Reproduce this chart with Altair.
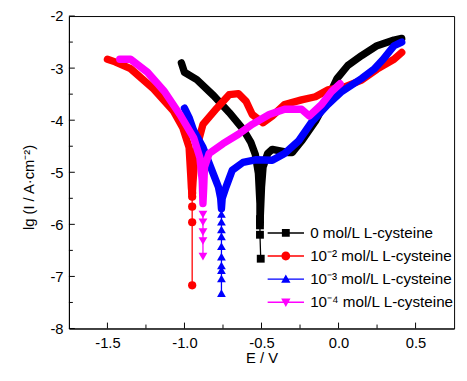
import altair as alt
import pandas as pd

# ---------------- data ----------------
series = ["0 mol/L L-cysteine", "10⁻² mol/L L-cysteine",
          "10⁻³ mol/L L-cysteine", "10⁻⁴ mol/L L-cysteine"]
colors = ["#000000", "#ff0000", "#0000ff", "#ff00ff"]
marker_shapes = ["square", "circle", "triangle-up", "triangle-down"]

# 0 mol/L
black_E = [-1.02, -1.00, -0.92, -0.81, -0.71, -0.62, -0.57, -0.54, -0.52, -0.51, -0.51,
           -0.50, -0.49, -0.46, -0.43, -0.33, -0.30, -0.24, -0.15, -0.07, -0.01, 0.06,
           0.15, 0.25, 0.36, 0.41]
black_lg = [-2.90, -3.08, -3.22, -3.53, -3.85, -4.17, -4.42, -4.66, -5.02, -5.60, -6.00,
            -5.28, -4.90, -4.64, -4.56, -4.62, -4.62, -4.40, -4.02, -3.58, -3.20, -2.95,
            -2.76, -2.57, -2.46, -2.43]
black_tip_E = [-0.51, -0.51, -0.51, -0.505]
black_tip_lg = [-5.90, -6.02, -6.20, -6.66]

# 10^-2 mol/L
red_E = [-1.50, -1.45, -1.35, -1.20, -1.07, -1.01, -0.97, -0.96, -0.955, -0.95,
         -0.945, -0.935, -0.92, -0.88, -0.79, -0.71, -0.65, -0.60, -0.56, -0.49,
         -0.43, -0.35, -0.24, -0.15, -0.07, 0.04, 0.15, 0.25, 0.36, 0.41]
red_lg = [-2.83, -2.88, -3.01, -3.40, -3.83, -4.15, -4.52, -5.02, -5.30, -5.45,
          -5.20, -4.80, -4.52, -4.08, -3.77, -3.51, -3.49, -3.64, -3.89, -4.05,
          -3.92, -3.70, -3.61, -3.55, -3.42, -3.36, -3.23, -3.02, -2.83, -2.70]
red_tip_E = [-0.95, -0.95, -0.95, -0.95, -0.95]
red_tip_lg = [-5.40, -5.47, -5.66, -5.96, -7.17]

# 10^-3 mol/L
blue_E = [-1.00, -0.97, -0.94, -0.88, -0.83, -0.78, -0.765, -0.76,
          -0.755, -0.73, -0.69, -0.62, -0.54, -0.43, -0.35, -0.26, -0.17, -0.07,
          0.02, 0.15, 0.23, 0.29, 0.36, 0.41]
blue_lg = [-3.77, -3.95, -4.20, -4.52, -4.90, -5.28, -5.50, -5.70,
           -5.50, -5.28, -4.96, -4.81, -4.76, -4.77, -4.64, -4.40, -4.02, -3.70,
           -3.45, -3.20, -3.02, -2.83, -2.57, -2.50]
blue_tip_E = [-0.76, -0.76, -0.76, -0.76, -0.76, -0.76, -0.76, -0.76, -0.76, -0.76]
blue_tip_lg = [-5.80, -5.95, -6.10, -6.23, -6.42, -6.62, -6.79, -6.88, -7.04, -7.32]

# 10^-4 mol/L
mag_E = [-1.42, -1.35, -1.24, -1.13, -1.03, -0.94, -0.90, -0.885, -0.88,
         -0.875, -0.87, -0.84, -0.75, -0.65, -0.56, -0.45, -0.35, -0.24, -0.19,
         -0.11, -0.045, 0.01]
mag_lg = [-2.83, -2.83, -3.08, -3.45, -3.89, -4.34, -4.72, -5.15, -5.60,
          -5.30, -4.90, -4.64, -4.45, -4.27, -4.08, -3.89, -3.79, -3.79, -3.92,
          -3.70, -3.45, -3.30]
mag_tip_E = [-0.88, -0.88, -0.88, -0.88, -0.88]
mag_tip_lg = [-5.81, -5.96, -6.15, -6.32, -6.62]

x_major = [-1.5, -1.0, -0.5, 0.0, 0.5]
x_minor = [-1.25, -0.75, -0.25, 0.25]
y_major = [-8, -7, -6, -5, -4, -3, -2]
y_minor = [-7.5, -6.5, -5.5, -4.5, -3.5, -2.5]

# legend symbol paths (line + marker), unit = 5 px (symbolSize 100), all clockwise
legend_paths = [
    "M-3.7,-0.14H3.7V0.14H-3.7Z M-0.8,-0.8H0.8V0.8H-0.8Z",
    "M-3.7,-0.14H3.7V0.14H-3.7Z M-0.9,0A0.9,0.9,0,1,1,0.9,0A0.9,0.9,0,1,1,-0.9,0Z",
    "M-3.7,-0.14H3.7V0.14H-3.7Z M0,-0.95L0.95,0.75L-0.95,0.75Z",
    "M-3.7,-0.14H3.7V0.14H-3.7Z M0,0.95L-0.95,-0.75L0.95,-0.75Z",
]

FONT = "Liberation Sans"
W, H = 392, 318

xscale = alt.Scale(domain=[-1.75, 0.75], nice=False, zero=False)
yscale = alt.Scale(domain=[-8, -2], nice=False, zero=False)
xaxis = alt.Axis(values=x_major, title="E / V",
                 labelExpr="replace(format(datum.value, '.1f'), '−', '-')",
                 labelPadding=7, titleY=30, titleBaseline="middle")
yaxis = alt.Axis(values=y_major, title="lg (I / A·cm⁻²)",
                 labelExpr="replace(format(datum.value, 'd'), '−', '-')",
                 labelPadding=6, titleX=-41, titleY=174, titleAngle=-90,
                 titleBaseline="middle", titleAlign="center")


def X():
    return alt.X("E:Q", scale=xscale, axis=xaxis)


def Y():
    return alt.Y("lg:Q", scale=yscale, axis=yaxis)


def frame(E, lg, name):
    return pd.DataFrame({"E": E, "lg": lg, "series": name, "i": list(range(len(E)))})


curves = [(black_E, black_lg), (red_E, red_lg), (blue_E, blue_lg), (mag_E, mag_lg)]
tips = [(black_tip_E, black_tip_lg), (red_tip_E, red_tip_lg),
        (blue_tip_E, blue_tip_lg), (mag_tip_E, mag_tip_lg)]
tip_sizes = [64, 70, 80, 80]

layers = []
for k in range(4):
    cdf = frame(curves[k][0], curves[k][1], series[k])
    tdf = frame(tips[k][0], tips[k][1], series[k])
    c = colors[k]
    layers.append(alt.Chart(tdf).mark_line(color=c, strokeWidth=1.3).encode(
        x=X(), y=Y(), order="i:Q"))
    layers.append(alt.Chart(cdf).mark_line(color=c, strokeWidth=7.5, strokeCap="round",
                                           strokeJoin="round").encode(
        x=X(), y=Y(), order="i:Q"))
    layers.append(alt.Chart(tdf).mark_point(shape=marker_shapes[k], filled=True,
                                            size=tip_sizes[k], color=c,
                                            opacity=1).encode(x=X(), y=Y()))

# inward ticks
xt_major = pd.DataFrame({"E": x_major})
xt_minor = pd.DataFrame({"E": x_minor})
yt_major = pd.DataFrame({"lg": y_major})
yt_minor = pd.DataFrame({"lg": y_minor})
layers.append(alt.Chart(xt_major).mark_rule(color="black", strokeWidth=1).encode(
    x=X(), y=alt.value(H), y2=alt.value(H - 6)))
layers.append(alt.Chart(xt_minor).mark_rule(color="black", strokeWidth=1).encode(
    x=X(), y=alt.value(H), y2=alt.value(H - 4)))
layers.append(alt.Chart(yt_major).mark_rule(color="black", strokeWidth=1).encode(
    y=Y(), x=alt.value(0), x2=alt.value(6)))
layers.append(alt.Chart(yt_minor).mark_rule(color="black", strokeWidth=1).encode(
    y=Y(), x=alt.value(0), x2=alt.value(4)))

# legend layer (invisible marks, visible legend)
leg = alt.Legend(title=None, orient="none", legendX=213, legendY=213,
                 symbolSize=100, symbolOpacity=1, symbolStrokeWidth=0,
                 labelFont=FONT, labelFontSize=15.5, labelColor="black",
                 labelLimit=400, labelOffset=17, rowPadding=6.5, padding=0,
                 labelExpr="datum.index == 0 ? '\u00a0' + datum.label : datum.label")
leg_df = pd.DataFrame({"series": series, "E": [-1.0] * 4, "lg": [-5.0] * 4})
layers.append(alt.Chart(leg_df).mark_point(filled=True, opacity=0, size=10).encode(
    x=X(), y=Y(),
    color=alt.Color("series:N", scale=alt.Scale(domain=series, range=colors), legend=leg),
    shape=alt.Shape("series:N", scale=alt.Scale(domain=series, range=legend_paths), legend=leg),
))

chart = alt.layer(*layers).properties(
    width=W, height=H,
    autosize=alt.AutoSizeParams(type="none"),
    padding={"left": 62, "top": 5, "right": 5, "bottom": 36},
).configure_view(stroke="black", strokeWidth=1).configure_axis(
    grid=False, ticks=False, domainColor="black", domainWidth=1,
    labelFont=FONT, labelFontSize=15, labelColor="black",
    titleFont=FONT, titleFontSize=15, titleColor="black", titleFontWeight="normal",
)

chart.save("out.html", embed_options={"renderer": "svg", "actions": False})
